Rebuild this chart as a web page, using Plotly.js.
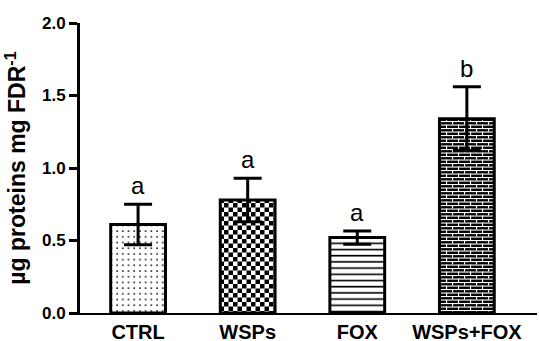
<!DOCTYPE html>
<html>
<head>
<meta charset="utf-8">
<script src="https://cdn.plot.ly/plotly-3.0.1.min.js"></script>
<style>html,body{margin:0;padding:0;background:#fff}#chart{width:539px;height:341px}</style>
</head>
<body>
<div id="chart"></div>
<script>
const categories = ['CTRL', 'WSPs', 'FOX', 'WSPs+FOX'];
const means = [0.61, 0.78, 0.52, 1.34];
const errors = [0.14, 0.15, 0.045, 0.22];
const letters = ['a', 'a', 'a', 'b'];
const yTicks = [0, 0.5, 1.0, 1.5, 2.0];

const FONT = 'Arial, "Liberation Sans", sans-serif';

const trace = {
  type: 'bar',
  x: [0, 1, 2, 3],
  y: means,
  width: 0.5,
  marker: {color: '#ffffff', line: {color: '#000000', width: 3}},
  error_y: {type: 'data', array: errors, visible: true, color: '#000000', thickness: 3, width: 14},
  hoverinfo: 'skip'
};

const annotations = letters.map((t, i) => ({
  x: i, y: means[i] + errors[i], xref: 'x', yref: 'y',
  text: t, showarrow: false, yanchor: 'bottom', yshift: 3,
  font: {family: FONT, size: 24, color: '#000'}
}));

const layout = {
  width: 539, height: 341,
  margin: {l: 80, r: 2, t: 23, b: 28},
  paper_bgcolor: '#fff', plot_bgcolor: '#fff',
  showlegend: false,
  xaxis: {
    range: [-0.53, 3.64],
    tickvals: [0, 1, 2, 3], ticktext: categories.map(c => '<b>' + c + '</b>'),
    showline: true, linecolor: '#000', linewidth: 2,
    ticks: '', showgrid: false, zeroline: false,
    automargin: false, ticklabelstandoff: 0,
    tickfont: {family: FONT, size: 20, color: '#000'}
  },
  yaxis: {
    range: [0, 2.0],
    tickvals: yTicks, ticktext: yTicks.map(v => '<b>' + v.toFixed(1) + '</b>'),
    showline: true, linecolor: '#000', linewidth: 3,
    ticks: 'outside', ticklen: 8, tickwidth: 3, tickcolor: '#000',
    showgrid: false, zeroline: false, automargin: false,
    tickfont: {family: FONT, size: 17, color: '#000'},
    title: {text: '<b>µg proteins mg FDR<sup>-1</sup></b>', standoff: 10,
            font: {family: FONT, size: 23, color: '#000'}}
  },
  annotations: annotations
};

Plotly.newPlot('chart', [trace], layout, {staticPlot: true, displayModeBar: false}).then(gd => {
  const NS = 'http://www.w3.org/2000/svg';
  const svg = gd.querySelector('svg.main-svg');
  let defs = svg.querySelector('defs');
  function mk(tag, attrs, parent) {
    const el = document.createElementNS(NS, tag);
    for (const k in attrs) el.setAttribute(k, attrs[k]);
    if (parent) parent.appendChild(el);
    return el;
  }
  function pat(id, w, h) {
    return mk('pattern', {id: id, patternUnits: 'userSpaceOnUse', width: w, height: h}, defs);
  }
  let p = pat('patDots', 5.7, 5.7);
  mk('rect', {x: 0, y: 0, width: 5.7, height: 5.7, fill: '#fff'}, p);
  mk('rect', {x: 2.2, y: 2.2, width: 1.5, height: 1.5, fill: '#000'}, p);
  p = pat('patChecker', 9, 9);
  mk('rect', {x: 0, y: 0, width: 9, height: 9, fill: '#fff'}, p);
  mk('rect', {x: 0, y: 0, width: 4.5, height: 4.5, fill: '#000'}, p);
  mk('rect', {x: 4.5, y: 4.5, width: 4.5, height: 4.5, fill: '#000'}, p);
  p = pat('patHLines', 10, 6.2);
  mk('rect', {x: 0, y: 0, width: 10, height: 6.2, fill: '#fff'}, p);
  mk('rect', {x: 0, y: 2.5, width: 10, height: 1.6, fill: '#000'}, p);
  p = pat('patBricks', 12, 7);
  mk('rect', {x: 0, y: 0, width: 12, height: 7, fill: '#000'}, p);
  mk('rect', {x: 0, y: 0, width: 12, height: 1.1, fill: '#fff'}, p);
  mk('rect', {x: 0, y: 3.5, width: 12, height: 1.1, fill: '#fff'}, p);
  mk('rect', {x: 0, y: 0, width: 1.1, height: 3.5, fill: '#fff'}, p);
  mk('rect', {x: 6, y: 3.5, width: 1.1, height: 3.5, fill: '#fff'}, p);
  const ids = ['patDots', 'patChecker', 'patHLines', 'patBricks'];
  gd.querySelectorAll('.barlayer .point path').forEach((path, i) => {
    path.style.fill = 'url(#' + ids[i] + ')';
    path.style.fillOpacity = 1;
  });
});
</script>
</body>
</html>
